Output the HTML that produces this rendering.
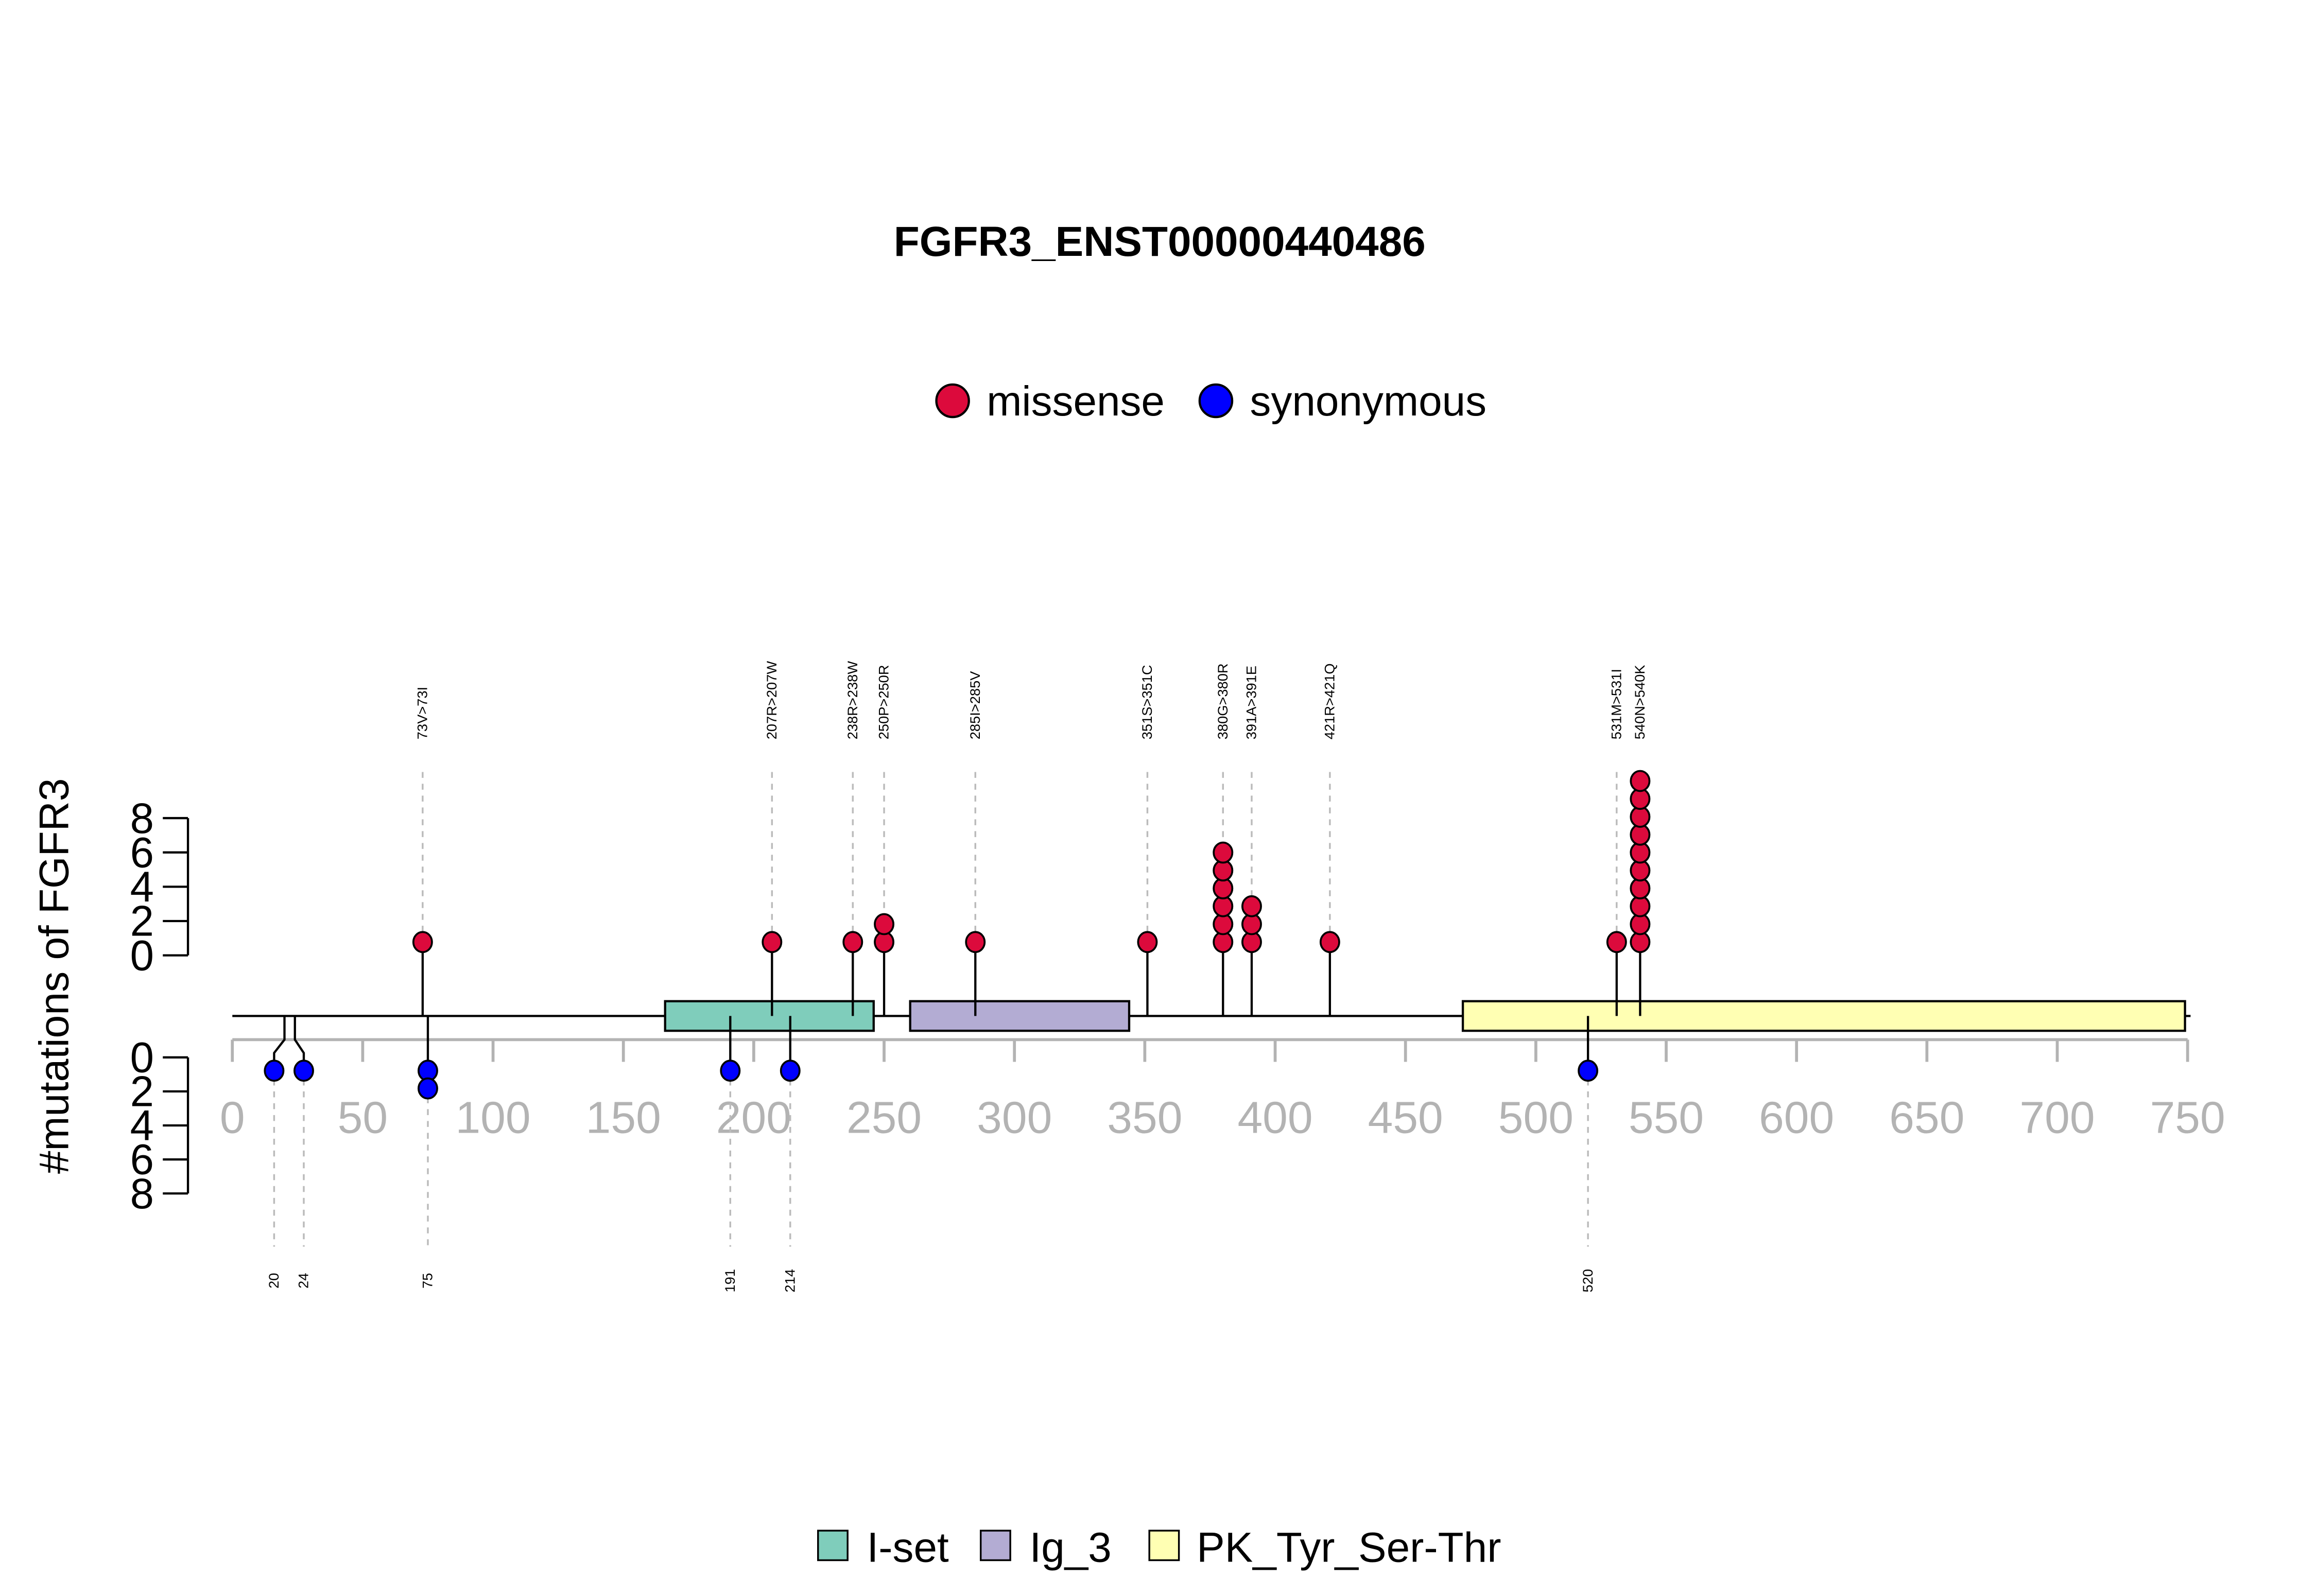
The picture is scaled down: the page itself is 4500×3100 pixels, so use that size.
<!DOCTYPE html>
<html><head><meta charset="utf-8"><style>html,body{margin:0;padding:0;background:#fff}svg{display:block}text{font-family:"Liberation Sans",Arial,sans-serif}</style></head>
<body>
<svg id="chart" width="4500" height="3100" viewBox="0 0 1566.4 1079.2" xmlns="http://www.w3.org/2000/svg">
<text x="784" y="173" font-size="28.5" font-weight="bold" text-anchor="middle">FGFR3_ENST00000440486</text>
<g>
<circle cx="644" cy="271" r="11" fill="#dc0a3c" stroke="#000" stroke-width="1.5"/>
<text x="667" y="281" font-size="28.5">missense</text>
<circle cx="822" cy="271" r="11" fill="#0000ff" stroke="#000" stroke-width="1.5"/>
<text x="845" y="281" font-size="28.5">synonymous</text>
</g>
<text transform="translate(46,660) rotate(-90)" font-size="28" text-anchor="middle">#mutations of FGFR3</text>
<g id="plot"></g>
<g>
<rect x="553" y="1035" width="20" height="20" fill="#7fcdbb" stroke="#000" stroke-width="1.2"/>
<text x="586" y="1056" font-size="28.5">I-set</text>
<rect x="663" y="1035" width="20" height="20" fill="#b3acd3" stroke="#000" stroke-width="1.2"/>
<text x="696" y="1056" font-size="28.5">Ig_3</text>
<rect x="777" y="1035" width="20" height="20" fill="#ffffb3" stroke="#000" stroke-width="1.2"/>
<text x="809" y="1056" font-size="28.5">PK_Tyr_Ser-Thr</text>
</g>
</svg>
<script>
const xTicks = [0,50,100,150,200,250,300,350,400,450,500,550,600,650,700,750];
const yTicks = [0,2,4,6,8];
const domainNames = ["I-set","Ig_3","PK_Tyr_Ser-Thr"];
const domainStart = [166,260,472];
const domainEnd = [246,344,749];
const domainColors = ["#7fcdbb","#b3acd3","#ffffb3"];
const missensePos = [73,207,238,250,285,351,380,391,421,531,540];
const missenseCount = [1,1,1,2,1,1,6,3,1,1,10];
const missenseLabels = ["73V>73I","207R>207W","238R>238W","250P>250R","285I>285V","351S>351C","380G>380R","391A>391E","421R>421Q","531M>531I","540N>540K"];
const synPos = [20,24,75,191,214,520];
const synCount = [1,1,2,1,1,1];
const synLabels = ["20","24","75","191","214","520"];

const NS="http://www.w3.org/2000/svg";
const g=document.getElementById('plot');
const X=v=>157+v*(1322/750);
const YT=c=>646-c*11.6;
const YB=c=>715+c*11.5;
function mk(tag,attrs,parent){const e=document.createElementNS(NS,tag);for(const k in attrs)e.setAttribute(k,attrs[k]);(parent||g).appendChild(e);return e;}

for(const [f,nm] of [[YT,'top'],[YB,'bottom']]){
  let ax=mk('line',{x1:127,x2:127,y1:f(0),y2:f(8),stroke:'#000','stroke-width':1.5});
  
  
  yTicks.forEach(t=>{
    let l=mk('line',{x1:110,x2:127,y1:f(t),y2:f(t),stroke:'#000','stroke-width':1.5});
    
    
    let tx=mk('text',{x:104,y:f(t)+10,'font-size':29,'text-anchor':'end'});
    tx.textContent=t;
    
    
  });
}
let xa=mk('line',{x1:X(0),x2:X(750),y1:703,y2:703,stroke:'#b3b3b3','stroke-width':2});


xTicks.forEach(t=>{
  let l=mk('line',{x1:X(t),x2:X(t),y1:703,y2:718,stroke:'#b3b3b3','stroke-width':2});
  
  
  let tx=mk('text',{x:X(t),y:766,'font-size':30.5,'text-anchor':'middle',fill:'#b3b3b3'});
  tx.textContent=t;
  
  
});
let bb=mk('line',{x1:X(0),x2:X(750)+2,y1:687,y2:687,stroke:'#000','stroke-width':1.5});


domainNames.forEach((n,i)=>{
  let r=mk('rect',{x:X(domainStart[i]),y:677,width:X(domainEnd[i])-X(domainStart[i]),height:20,fill:domainColors[i],stroke:'#000','stroke-width':1.5});
  
  
});
missensePos.forEach((p,i)=>{
  const x=X(p);
  let d=mk('line',{x1:x,x2:x,y1:522,y2:637-(missenseCount[i]-1)*12.1-6,stroke:'#bbb','stroke-width':1.2,'stroke-dasharray':'4,4'});
  
  
  let s=mk('line',{x1:x,x2:x,y1:687,y2:637,stroke:'#000','stroke-width':1.5});
  
  
  for(let c=0;c<missenseCount[i];c++){
    let e=mk('ellipse',{cx:x,cy:637-c*12.1,rx:6.3,ry:6.8,fill:'#dc0a3c',stroke:'#000','stroke-width':1.3});
    
    
  }
  let t=mk('text',{transform:`translate(${x+3},500) rotate(-90)`,'font-size':9.5,'text-anchor':'start'});
  t.textContent=missenseLabels[i];
  
  
});
synPos.forEach((p,i)=>{
  const x0=X(p);
  let x=x0;
  if(i<synPos.length-1 && synPos[i+1]-p<8) x=x0-7;
  if(i>0 && p-synPos[i-1]<8) x=x0+6;
  if(x!==x0){
    let pth=mk('path',{d:`M${x0},687 L${x0},703 L${x},712 L${x},724`,fill:'none',stroke:'#000','stroke-width':1.5});
    
    
  } else {
    let s=mk('line',{x1:x,x2:x,y1:687,y2:724,stroke:'#000','stroke-width':1.5});
    
    
  }
  let d=mk('line',{x1:x,x2:x,y1:724+(synCount[i]-1)*12+6,y2:843,stroke:'#bbb','stroke-width':1.2,'stroke-dasharray':'4,4'});
  
  
  for(let c=0;c<synCount[i];c++){
    let e=mk('ellipse',{cx:x,cy:724+c*12,rx:6.3,ry:6.8,fill:'#0000ff',stroke:'#000','stroke-width':1.3});
    
    
  }
  let t=mk('text',{transform:`translate(${x+3},866) rotate(-90)`,'font-size':9.5,'text-anchor':'middle'});
  t.textContent=synLabels[i];
  
  
});
</script>
</body></html>
